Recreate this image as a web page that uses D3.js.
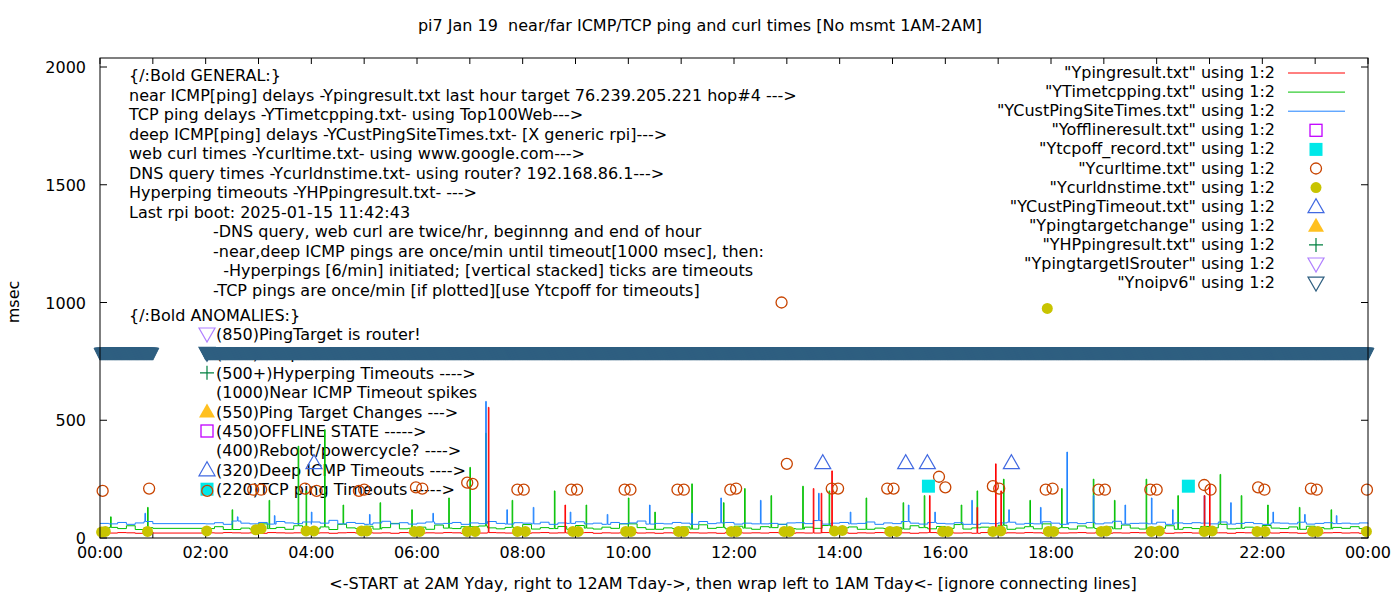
<!DOCTYPE html>
<html><head><meta charset="utf-8">
<script src="https://cdn.jsdelivr.net/npm/d3@7"></script>
<style>body{margin:0;background:#fff}text{font-family:"DejaVu Sans",sans-serif;white-space:pre}</style>
</head><body><svg id="c" width="1400" height="600"></svg>
<script>
// ---- DATA ----
const title = "pi7 Jan 19  near/far ICMP/TCP ping and curl times [No msmt 1AM-2AM]";
const xLabel = "<-START at 2AM Yday, right to 12AM Tday->, then wrap left to 1AM Tday<- [ignore connecting lines]";
const yLabel = "msec";
const xTicks = [0,2,4,6,8,10,12,14,16,18,20,22,24];
const xTickLabels = ["00:00","02:00","04:00","06:00","08:00","10:00","12:00","14:00","16:00","18:00","20:00","22:00","00:00"];
const yTicks = [0,500,1000,1500,2000];
// 10-minute samples, 00:00..24:00 (null = no measurement 1AM-2AM)
const blueBase = [62,60,66,58,64,70,61,null,null,null,null,null,60,65,58,72,63,60,66,59,70,64,61,68,58,63,75,60,66,62,58,64,71,60,65,59,63,68,60,62,66,58,64,61,70,62,59,65,63,60,67,58,64,62,69,60,63,58,66,61,64,72,59,62,60,66,63,58,70,61,64,66,59,63,60,68,62,58,64,65,61,74,59,63,66,60,62,68,58,64,61,70,63,59,66,62,60,65,58,72,63,61,64,67,59,62,60,69,63,58,65,61,66,60,64,71,59,62,63,60,67,58,64,61,65,63,60,68,59,62,66,61,58,64,63,60,67,59,62,65,61,63,60,64,62];
const greenBase = [38,45,40,52,36,44,41,null,null,null,null,null,40,48,36,55,42,38,60,40,45,37,52,41,39,47,36,58,43,40,50,38,44,62,39,41,46,37,55,42,40,48,36,51,43,39,45,41,57,38,44,40,49,37,53,42,38,46,41,60,39,44,37,52,43,40,47,38,56,41,45,39,50,42,37,48,44,58,40,38,46,41,53,39,43,47,37,61,42,40,45,38,52,44,39,49,41,57,38,43,46,40,54,37,42,48,39,60,41,44,38,51,43,40,47,39,55,42,38,45,41,52,37,44,40,49,43,58,39,41,46,38,53,42,40,47,37,50,44,39,45,41,48,40,43];
const redBase = [22,21,23,22,20,22,21,null,null,null,null,null,22,21,23,22,21,22,20,23,22,21,22,23,21,22,20,22,23,21,22,21,22,20,23,22,21,22,21,23,22,20,22,21,23,22,21,22,20,22,23,21,22,21,22,23,20,22,21,22,23,21,22,20,22,21,23,22,21,22,20,23,22,21,22,21,23,22,20,22,21,22,23,21,22,20,22,21,23,22,21,22,20,22,23,21,22,21,22,20,23,22,21,22,21,23,22,20,22,21,22,23,21,22,20,22,21,23,22,21,22,20,22,23,21,22,21,22,20,23,22,21,22,21,23,22,20,22,21,22,23,21,22,20,22];
// spikes [hour, msec]
const blueSpikes = [[0.85,105],[2.6,90],[3.3,95],[4.0,110],[5.1,100],[6.3,105],[7.3,580],[7.7,120],[8.2,130],[8.9,110],[9.6,100],[10.4,140],[11.2,105],[11.75,170],[12.5,160],[13.6,190],[14.2,110],[15.3,140],[15.8,110],[16.5,160],[17.2,120],[17.8,130],[18.3,365],[18.8,180],[19.4,140],[19.9,170],[20.3,120],[20.9,180],[21.4,150],[22.2,110],[22.8,100],[23.4,95]];
const greenSpikes = [[0.2,90],[0.9,130],[2.5,120],[3.2,160],[3.75,390],[3.9,200],[4.25,460],[4.6,140],[5.3,150],[5.9,120],[6.6,170],[7.0,300],[7.3,445],[7.8,160],[8.6,200],[9.2,140],[10.0,170],[10.5,110],[11.2,230],[11.8,150],[12.2,210],[12.7,180],[13.3,220],[13.8,200],[14.5,170],[15.2,150],[15.6,180],[16.3,140],[16.6,200],[17.1,250],[17.6,160],[18.2,210],[18.8,250],[19.2,160],[19.8,250],[20.4,180],[21.2,270],[21.6,180],[22.1,140],[22.7,130],[23.3,120]];
const redSpikes = [[7.35,555],[8.8,140],[13.5,210],[13.65,190],[13.85,285],[15.7,180],[16.6,130],[16.95,315],[17.05,200],[20.9,180],[21.0,230]];
const curl = [[0.05,200],[0.93,210],[2.03,200],[2.9,205],[3.05,205],[3.88,210],[4.1,200],[4.9,200],[5.0,205],[5.98,215],[6.1,210],[6.95,235],[7.05,230],[7.9,205],[8.02,205],[8.92,205],[9.03,205],[9.93,205],[10.04,205],[10.93,205],[11.05,205],[11.93,205],[12.04,210],[12.9,1000],[13.0,315],[13.85,210],[13.97,210],[14.9,210],[15.02,210],[15.88,260],[16.0,215],[16.9,220],[17.02,210],[17.9,205],[18.03,210],[18.9,205],[19.02,205],[19.88,205],[20.0,205],[20.9,225],[21.02,205],[21.92,215],[22.04,205],[22.92,210],[23.03,205],[23.98,205]];
const dns = [[0.03,25],[0.1,28],[0.9,28],[2.02,30],[2.95,35],[3.05,40],[3.9,30],[4.05,30],[4.95,30],[5.05,30],[5.95,28],[6.05,28],[6.95,28],[7.1,28],[7.9,28],[8.05,28],[8.95,28],[9.05,28],[9.95,28],[10.05,28],[10.95,28],[11.05,28],[11.95,28],[12.05,28],[12.95,28],[13.05,28],[13.9,30],[14.05,32],[14.95,28],[15.08,28],[15.95,28],[16.05,28],[16.9,28],[17.05,30],[17.93,975],[17.95,28],[18.05,28],[18.95,28],[19.05,30],[19.9,28],[20.05,30],[20.9,28],[21.05,30],[21.9,28],[22.05,28],[22.95,28],[23.05,28],[23.97,28]];
const tcpOff = [[15.68,220],[20.6,220]];
const custTimeout = [[4.05,320],[13.68,320],[15.25,320],[15.66,320],[17.25,320]];
const noipv6Ranges = [[0,1.0],[2.0,24]];
const noipv6Value = 785;
const generalText = ["{/:Bold GENERAL:}","near ICMP[ping] delays -Ypingresult.txt last hour target 76.239.205.221 hop#4 --->","TCP ping delays -YTimetcpping.txt- using Top100Web--->","deep ICMP[ping] delays -YCustPingSiteTimes.txt- [X generic rpi]--->","web curl times -Ycurltime.txt- using www.google.com--->","DNS query times -Ycurldnstime.txt- using router? 192.168.86.1--->","Hyperping timeouts -YHPpingresult.txt- --->","Last rpi boot: 2025-01-15 11:42:43"];
const notesText = ["-DNS query, web curl are twice/hr, beginnng and end of hour","-near,deep ICMP pings are once/min until timeout[1000 msec], then:","  -Hyperpings [6/min] initiated; [vertical stacked] ticks are timeouts","-TCP pings are once/min [if plotted][use Ytcpoff for timeouts]"];
const anomalies = [["tridown","(850)PingTarget is router!"],["noip","(785)No ipv6 fallback"],["plus","(500+)Hyperping Timeouts ---->"],[null,"(1000)Near ICMP Timeout spikes"],["triorange","(550)Ping Target Changes --->"],["sqopen","(450)OFFLINE STATE ----->"],[null,"(400)Reboot/powercycle? ---->"],["triblue","(320)Deep ICMP Timeouts ---->"],["sqcyan","(220)TCP ping Timeouts ----->"]];
const legendItems = [["line","#ff0000","\"Ypingresult.txt\" using 1:2"],["line","#00c000","\"YTimetcpping.txt\" using 1:2"],["line","#1e82ff","\"YCustPingSiteTimes.txt\" using 1:2"],["sqopen","","\"Yofflineresult.txt\" using 1:2"],["sqcyan","","\"Ytcpoff_record.txt\" using 1:2"],["circ","","\"Ycurltime.txt\" using 1:2"],["dot","","\"Ycurldnstime.txt\" using 1:2"],["triblue","","\"YCustPingTimeout.txt\" using 1:2"],["triorange","","\"Ypingtargetchange\" using 1:2"],["plus","","\"YHPpingresult.txt\" using 1:2"],["tridown","","\"YpingtargetISrouter\" using 1:2"],["tridark","","\"Ynoipv6\" using 1:2"]];

// ---- DRAW ----
const svg = d3.select("#c");
const L=100,R=1368,T=58,B=538;
const x = d3.scaleLinear().domain([0,24]).range([L,R]);
const y = d3.scaleLinear().domain([0,2000]).range([B,67]);
const F = "16px";
svg.append("text").attr("x",700).attr("y",31).attr("text-anchor","middle").style("font-size",F).text(title);
svg.append("text").attr("x",733).attr("y",589).attr("text-anchor","middle").style("font-size",F).text(xLabel);
svg.append("text").attr("transform","translate(19,302) rotate(-90)").attr("text-anchor","middle").style("font-size",F).text(yLabel);
const ax = svg.append("g");
d3.range(0,25).forEach(h=>{
  ax.append("line").attr("x1",x(h)).attr("x2",x(h)).attr("y1",B).attr("y2",B-6).attr("stroke","#000");
  ax.append("line").attr("x1",x(h)).attr("x2",x(h)).attr("y1",T).attr("y2",T+6).attr("stroke","#000");
});
xTicks.forEach((h,i)=>ax.append("text").attr("x",x(h)).attr("y",558).attr("text-anchor","middle").style("font-size",F).text(xTickLabels[i]));
yTicks.forEach(v=>{
  ax.append("line").attr("x1",L).attr("x2",L+7).attr("y1",y(v)).attr("y2",y(v)).attr("stroke","#000");
  ax.append("line").attr("x1",R).attr("x2",R-7).attr("y1",y(v)).attr("y2",y(v)).attr("stroke","#000");
  ax.append("text").attr("x",86).attr("y",y(v)+6).attr("text-anchor","end").style("font-size",F).text(v);
});
generalText.forEach((t,i)=>svg.append("text").attr("x",129).attr("y",81+i*19.5).style("font-size",F).text(t));
notesText.forEach((t,i)=>svg.append("text").attr("x",213).attr("y",237+i*19.5).style("font-size",F).text(t));
svg.append("text").attr("x",129).attr("y",321).style("font-size",F).text("{/:Bold ANOMALIES:}");
function marker(g,type,cx,cy){
  if(type==="sqopen") g.append("rect").attr("x",cx-6).attr("y",cy-6).attr("width",12).attr("height",12).attr("fill","none").attr("stroke","#c000ff").attr("stroke-width",1.3);
  else if(type==="sqcyan") g.append("rect").attr("x",cx-6.5).attr("y",cy-6.5).attr("width",13).attr("height",13).attr("fill","#00e8e8");
  else if(type==="circ") g.append("circle").attr("cx",cx).attr("cy",cy).attr("r",5.5).attr("fill","none").attr("stroke","#c84400").attr("stroke-width",1.3);
  else if(type==="dot") g.append("circle").attr("cx",cx).attr("cy",cy).attr("r",5.5).attr("fill","#c8c400");
  else if(type==="triblue") g.append("path").attr("d",`M${cx-8},${cy+6}L${cx+8},${cy+6}L${cx},${cy-8}Z`).attr("fill","none").attr("stroke","#4169e1").attr("stroke-width",1.2);
  else if(type==="triorange") g.append("path").attr("d",`M${cx-8},${cy+6}L${cx+8},${cy+6}L${cx},${cy-8}Z`).attr("fill","#ffc020");
  else if(type==="tridown") g.append("path").attr("d",`M${cx-8},${cy-6}L${cx+8},${cy-6}L${cx},${cy+8}Z`).attr("fill","none").attr("stroke","#b080ff").attr("stroke-width",1.2);
  else if(type==="tridark"||type==="noip") g.append("path").attr("d",`M${cx-8},${cy-6}L${cx+8},${cy-6}L${cx},${cy+8}Z`).attr("fill","none").attr("stroke","#2f5f80").attr("stroke-width",1.2);
  else if(type==="plus") g.append("path").attr("d",`M${cx-7},${cy}H${cx+7}M${cx},${cy-7}V${cy+7}`).attr("stroke","#008040").attr("stroke-width",1.2);
}
const an = svg.append("g");
anomalies.forEach(([m,t],i)=>{
  const yy = 340+i*19.4;
  an.append("text").attr("x",216).attr("y",yy).style("font-size",F).text(t);
  if(m) marker(an,m,207,yy-6);
});
const lg = svg.append("g");
legendItems.forEach(([m,c,t],i)=>{
  const yy = 78+i*19.1;
  lg.append("text").attr("x",1275).attr("y",yy).attr("text-anchor","end").style("font-size",F).text(t);
  if(m==="line") lg.append("line").attr("x1",1288).attr("x2",1345).attr("y1",yy-5).attr("y2",yy-5).attr("stroke",c);
  else marker(lg,m,1316,yy-5);
});
function series(base,spikes){
  const all = base.map((v,i)=>v===null?null:[i/6,v]).filter(d=>d);
  const keys = new Set(spikes.map(s=>s[0]));
  spikes.forEach(s=>{ all.push([s[0]-0.012,null]); all.push([s[0],s[1]]); all.push([s[0]+0.012,null]); });
  all.sort((a,b)=>a[0]-b[0]);
  for(let i=0;i<all.length;i++) if(all[i][1]===null){ let j=i-1; while(j>=0&&(all[j][1]===null||keys.has(all[j][0]))) j--; all[i][1]= j>=0?all[j][1]:base[0]; }
  return all;
}
const line = d3.line().x(d=>x(d[0])).y(d=>y(d[1])).curve(d3.curveStepAfter);
const pg = svg.append("g");
pg.append("path").datum(series(greenBase,greenSpikes)).attr("d",line).attr("fill","none").attr("stroke","#00c000").attr("stroke-width",1);
pg.append("path").datum(series(blueBase,blueSpikes)).attr("d",line).attr("fill","none").attr("stroke","#1e82ff").attr("stroke-width",1);
pg.append("path").datum(series(redBase,redSpikes)).attr("d",line).attr("fill","none").attr("stroke","#ff0000").attr("stroke-width",1);
const mg = svg.append("g");
curl.forEach(d=>marker(mg,"circ",x(d[0]),y(d[1])));
dns.forEach(d=>marker(mg,"dot",x(d[0]),y(d[1])));
tcpOff.forEach(d=>marker(mg,"sqcyan",x(d[0]),y(d[1])));
custTimeout.forEach(d=>marker(mg,"triblue",x(d[0]),y(d[1])));
noipv6Ranges.forEach(([a,b])=>{
  for(let m=a*60;m<=b*60;m++){
    const cx=x(m/60), cy=y(noipv6Value);
    mg.append("path").attr("d",`M${cx-6},${cy-5}L${cx+6},${cy-5}L${cx},${cy+7}Z`).attr("fill","#2f5f80").attr("stroke","#2f5f80");
  }
});
svg.append("rect").attr("x",L).attr("y",T).attr("width",R-L).attr("height",B-T).attr("fill","none").attr("stroke","#000");
</script></body></html>
